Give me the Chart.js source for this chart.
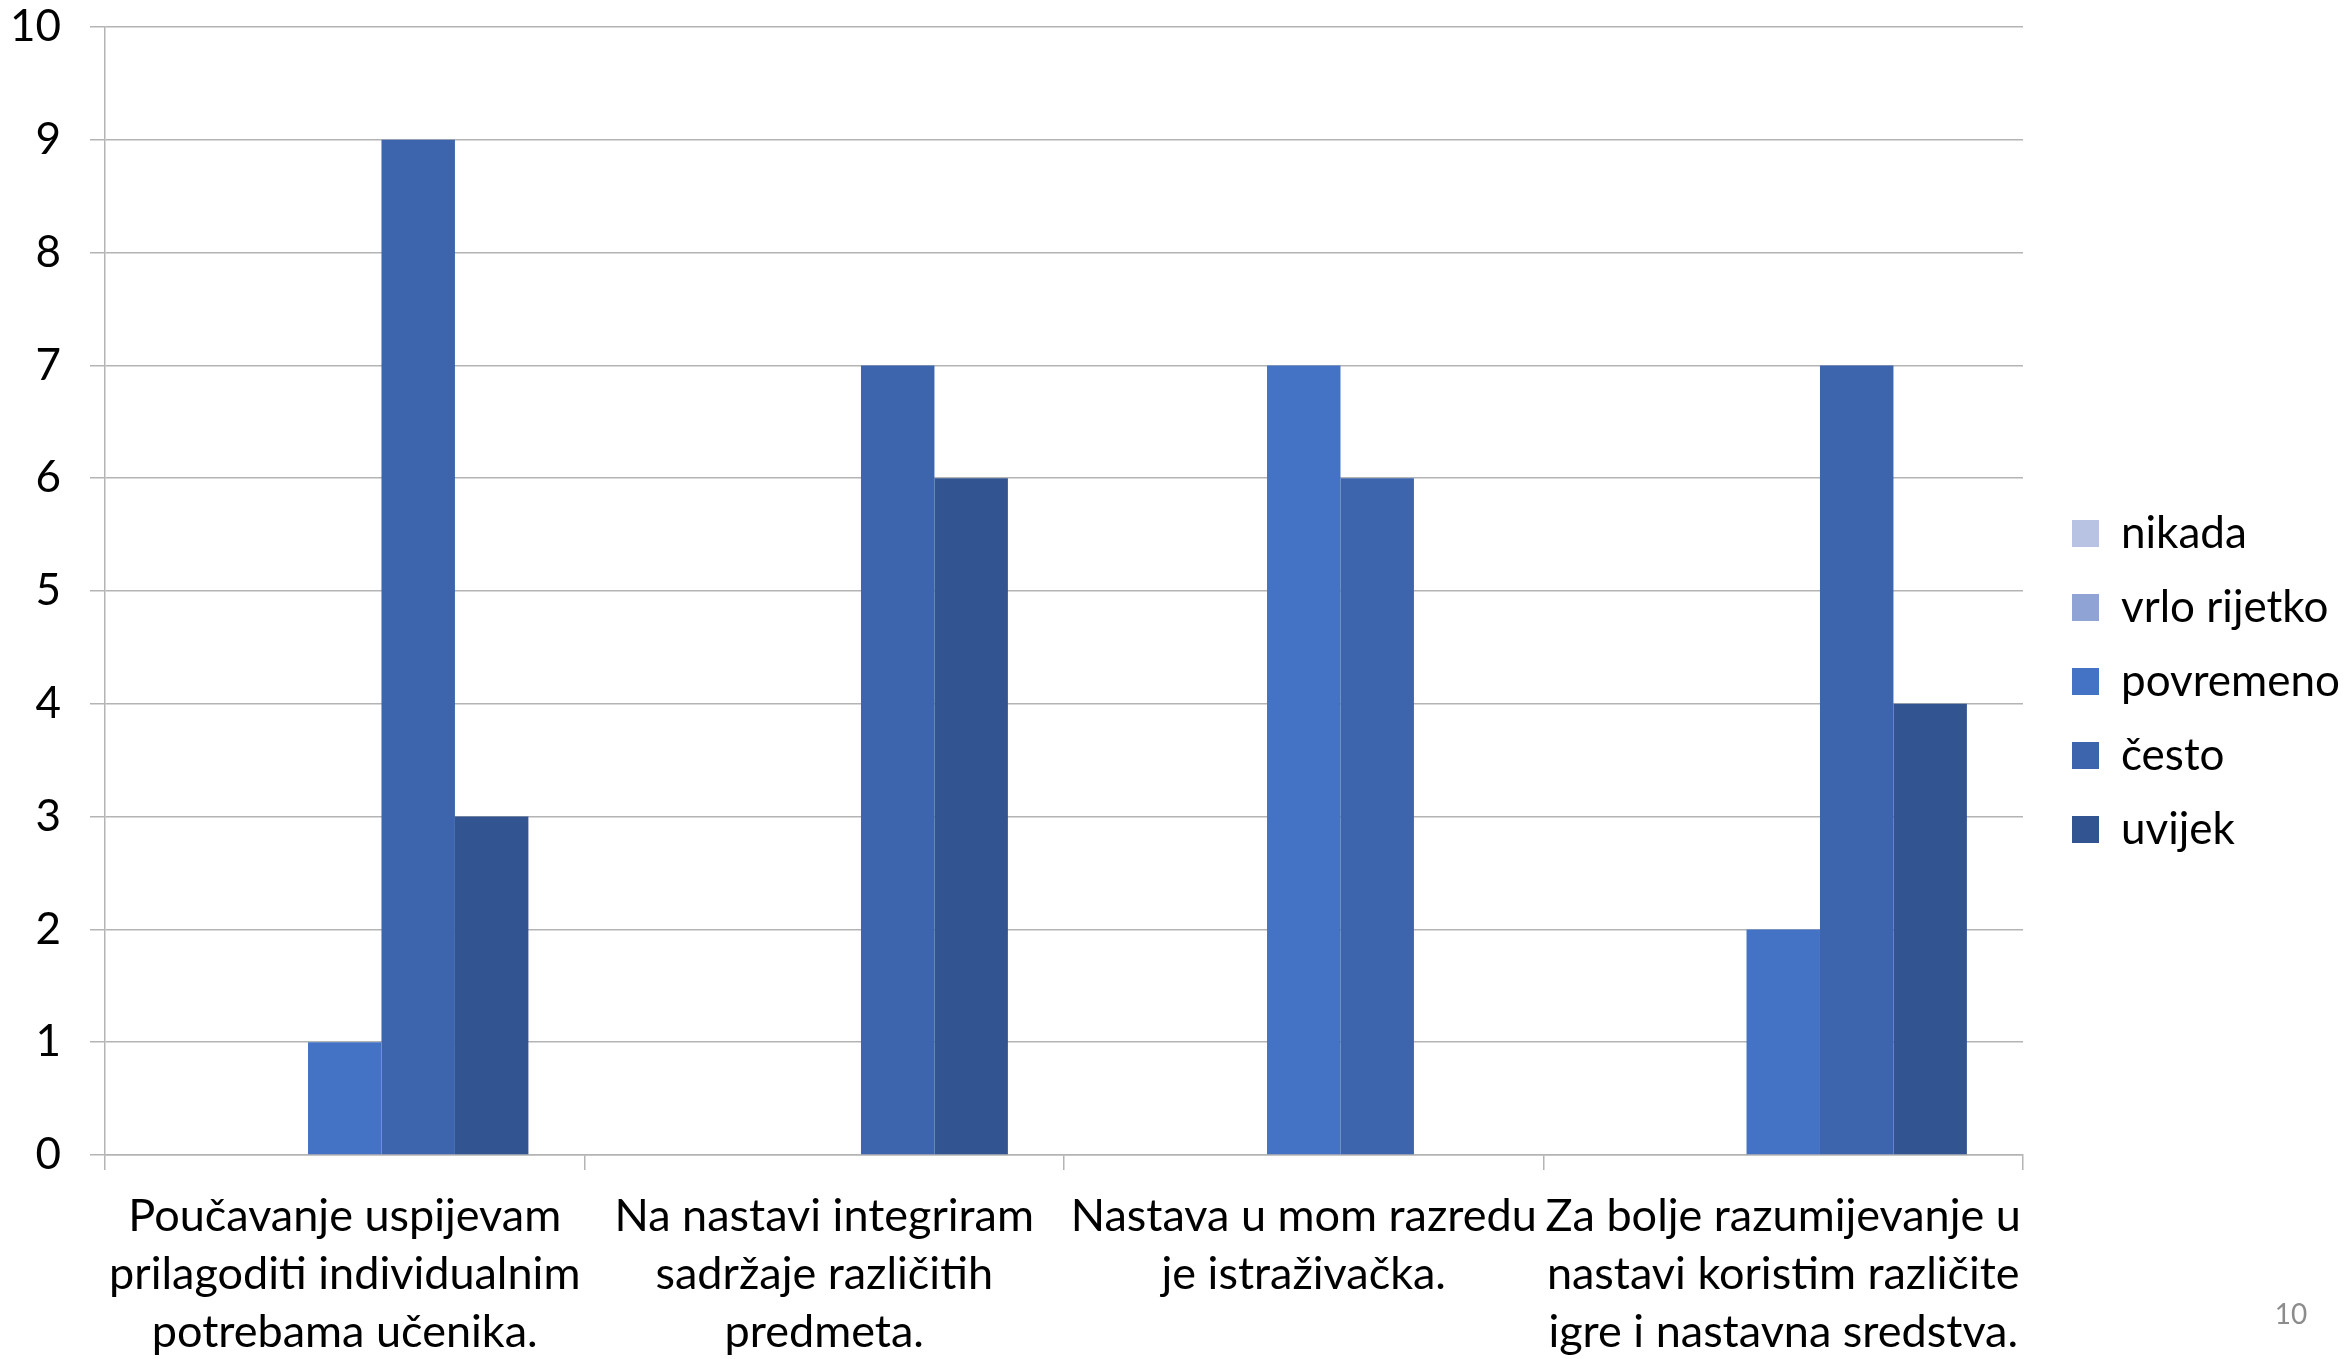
<!DOCTYPE html>
<html>
<head>
<meta charset="utf-8">
<script src="https://cdn.jsdelivr.net/npm/chart.js@4"></script>
<style>
    html, body { margin: 0; padding: 0; background: #fff; }
    #wrap { position: relative; width: 2346px; height: 1359px; }
    #pageNo { position: absolute; left: 2271px; top: 1296px; width: 40px; text-align: center;
              font: 28px Lato, sans-serif; color: #8c8c8c; }
</style>
</head>
<body>
<div id="wrap">
    <canvas id="chart"></canvas>
    <div id="pageNo">10</div>
</div>
<script>
// kategorije (tvrdnje) - svaka kao niz redaka
const categories = [
    ['Poučavanje uspijevam', 'prilagoditi individualnim', 'potrebama učenika.'],
    ['Na nastavi integriram', 'sadržaje različitih', 'predmeta.'],
    ['Nastava u mom razredu', 'je istraživačka.'],
    ['Za bolje razumijevanje u', 'nastavi koristim različite', 'igre i nastavna sredstva.']
];

// broj odgovora po učestalosti
const nikada      = [0, 0, 0, 0];
const vrloRijetko = [0, 0, 0, 0];
const povremeno   = [1, 0, 7, 2];
const cesto       = [9, 7, 6, 7];
const uvijek      = [3, 6, 0, 4];

const seriesNames = ['nikada', 'vrlo rijetko', 'povremeno', 'često', 'uvijek'];
const seriesColors = ['#B8C3E3', '#8FA3D4', '#4472C4', '#3C65AD', '#325592'];

const FONT = 'Lato';
const GRID = '#B4B4B4';

// legenda: fiksna širina, pa pomak nakon rasporeda (kao u originalu)
const legendShift = {
    id: 'legendShift',
    beforeInit(chart) {
        const fit = chart.legend.fit;
        chart.legend.fit = function () {
            fit.bind(chart.legend)();
            this.width = 323;
        };
    },
    afterLayout(chart) {
        const lg = chart.legend;
        lg.left += 19; lg.right += 19;
        lg.top += 2; lg.bottom += 2;
    }
};

const ctx = document.getElementById('chart');

new Chart(ctx, {
    type: 'bar',
    data: {
        labels: categories,
        datasets: [nikada, vrloRijetko, povremeno, cesto, uvijek].map((d, i) => ({
            label: seriesNames[i],
            data: d,
            backgroundColor: seriesColors[i],
            borderWidth: 0,
            barPercentage: 1.0,
            categoryPercentage: 0.766
        }))
    },
    options: {
        responsive: true,
        maintainAspectRatio: false,
        animation: false,
        layout: { padding: 0 },
        plugins: {
            tooltip: { enabled: false },
            legend: {
                position: 'right',
                labels: {
                    font: { family: FONT, size: 44 },
                    color: '#000',
                    boxWidth: 27,
                    boxHeight: 27,
                    padding: 30
                }
            }
        },
        scales: {
            y: {
                min: 0,
                max: 10,
                ticks: {
                    stepSize: 1,
                    padding: 29,
                    color: '#000',
                    font: { family: FONT, size: 44 }
                },
                grid: { color: GRID, lineWidth: 1.5, tickLength: 15 },
                border: { color: GRID, width: 1.5 },
                afterFit(scale) {
                    scale.width = 105;
                    scale.paddingTop = 27;
                    scale.paddingBottom = 0;
                }
            },
            x: {
                ticks: {
                    padding: 17,
                    color: '#000',
                    maxRotation: 0,
                    autoSkip: false,
                    font: { family: FONT, size: 45, lineHeight: 1.29 }
                },
                grid: { drawOnChartArea: false, color: GRID, lineWidth: 1.5, tickLength: 15 },
                border: { color: GRID, width: 1.5 },
                afterFit(scale) { scale.height = 204; }
            }
        }
    },
    plugins: [legendShift]
});
</script>
</body>
</html>
